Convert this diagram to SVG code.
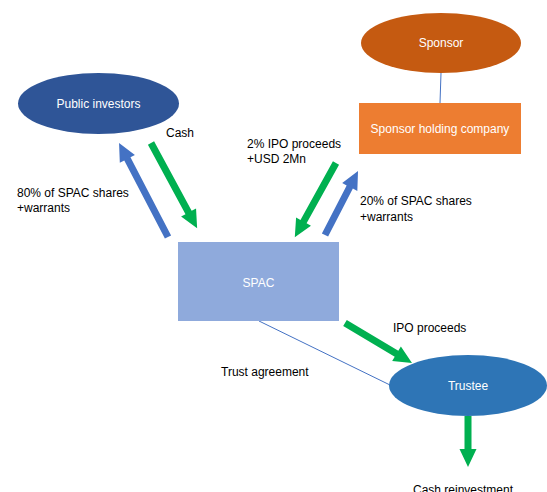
<svg xmlns="http://www.w3.org/2000/svg" width="547" height="492" viewBox="0 0 547 492">
  <style>
    text { font-family: "Liberation Sans", Arial, sans-serif; font-size: 12px; }
    .in { fill: #ffffff; text-anchor: middle; }
    .lbl { fill: #000000; }
    .blue { fill: #4472C4; }
    .green { fill: #00B050; }
    .thin { stroke: #4472C4; stroke-width: 1; fill: none; }
  </style>
  <rect width="547" height="492" fill="#ffffff"/>

  <!-- connectors: block arrows and plain links -->
  <g id="connectors">
    <line class="thin" x1="441" y1="73" x2="440" y2="103"/>
    <line class="thin" x1="259" y1="321" x2="390" y2="385"/>
    <!-- arrow shape: tail at origin, pointing along +x -->
    <path class="blue" transform="translate(168,237) rotate(-117.5)" d="M0,-3.5 H88 V-8.5 L106,0 L88,8.5 V3.5 H0 Z"/>
    <path class="green" transform="translate(151,143) rotate(61.6)" d="M0,-3.5 H79 V-8.5 L97,0 L79,8.5 V3.5 H0 Z"/>
    <path class="green" transform="translate(336,163) rotate(119)" d="M0,-3.5 H67 V-8.5 L85,0 L67,8.5 V3.5 H0 Z"/>
    <path class="blue" transform="translate(325,235) rotate(-62.7)" d="M0,-3.5 H54 V-8.5 L72,0 L54,8.5 V3.5 H0 Z"/>
    <path class="green" transform="translate(345,323) rotate(30.8)" d="M0,-3.5 H60 V-8.5 L78,0 L60,8.5 V3.5 H0 Z"/>
    <path class="green" transform="translate(468,416) rotate(90)" d="M0,-3.5 H33 V-8.5 L51,0 L33,8.5 V3.5 H0 Z"/>
  </g>

  <g id="public-investors">
    <ellipse cx="98.5" cy="103.5" rx="80.5" ry="30.5" fill="#2F5597"/>
    <text class="in" x="98.5" y="108">Public investors</text>
  </g>

  <g id="sponsor">
    <ellipse cx="441" cy="43" rx="80" ry="30" fill="#C55A11"/>
    <text class="in" x="441" y="47">Sponsor</text>
  </g>

  <g id="sponsor-holding">
    <rect x="359" y="103" width="162" height="51" fill="#ED7D31"/>
    <text class="in" x="440" y="133">Sponsor holding company</text>
  </g>

  <g id="spac">
    <rect x="178" y="242" width="161" height="79" fill="#8FAADC"/>
    <text class="in" x="258.5" y="287">SPAC</text>
  </g>

  <g id="trustee">
    <ellipse cx="468" cy="385.5" rx="79" ry="30.5" fill="#2E75B6"/>
    <text class="in" x="468" y="390">Trustee</text>
  </g>

  <g id="labels">
    <text class="lbl" x="166" y="137">Cash</text>
    <text class="lbl" x="17" y="197">80% of SPAC shares</text>
    <text class="lbl" x="17" y="212">+warrants</text>
    <text class="lbl" x="247" y="148">2% IPO proceeds</text>
    <text class="lbl" x="247" y="163">+USD 2Mn</text>
    <text class="lbl" x="360" y="205">20% of SPAC shares</text>
    <text class="lbl" x="360" y="221">+warrants</text>
    <text class="lbl" x="393" y="332">IPO proceeds</text>
    <text class="lbl" x="221" y="376">Trust agreement</text>
    <text class="lbl" x="413" y="494">Cash reinvestment</text>
  </g>
</svg>
